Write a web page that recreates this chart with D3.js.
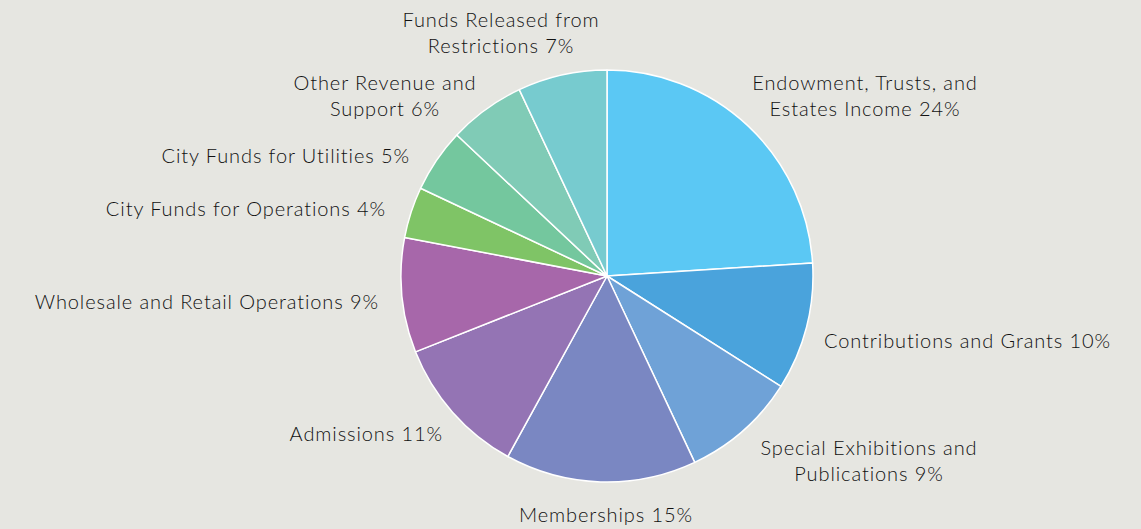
<!DOCTYPE html>
<html>
<head>
<meta charset="utf-8">
<script src="https://cdn.jsdelivr.net/npm/d3@7"></script>
<style>
  html, body { margin: 0; padding: 0; background: #e6e6e1; }
  svg { display: block; }
  text { font-family: Lato, "Open Sans", sans-serif; fill: #111; font-weight: 300; }
</style>
</head>
<body>
<svg id="chart" width="1141" height="529"></svg>
<script>
// data
const categories = [
  "Endowment, Trusts, and Estates Income",
  "Contributions and Grants",
  "Special Exhibitions and Publications",
  "Memberships",
  "Admissions",
  "Wholesale and Retail Operations",
  "City Funds for Operations",
  "City Funds for Utilities",
  "Other Revenue and Support",
  "Funds Released from Restrictions"
];
const shares = [24, 10, 9, 15, 11, 9, 4, 5, 6, 7];
// label text, split where the reference wraps it
const labelLines = [
  ["Endowment, Trusts, and", "Estates Income 24%"],
  ["Contributions and Grants 10%"],
  ["Special Exhibitions and", "Publications 9%"],
  ["Memberships 15%"],
  ["Admissions 11%"],
  ["Wholesale and Retail Operations 9%"],
  ["City Funds for Operations 4%"],
  ["City Funds for Utilities 5%"],
  ["Other Revenue and", "Support 6%"],
  ["Funds Released from", "Restrictions 7%"]
];

const colors = ["#5bc8f4", "#4aa3dc", "#6fa2d7", "#7a87c2", "#9474b4",
                "#a767aa", "#7fc466", "#74c79e", "#80cbb6", "#77cbcf"];

// label layout: x, first baseline, anchor
const labelLayout = [
  [865, 90, "middle"],
  [1111, 348, "end"],
  [869, 455, "middle"],
  [606, 522, "middle"],
  [443, 441, "end"],
  [379, 309, "end"],
  [386, 216, "end"],
  [410, 163, "end"],
  [385, 90, "middle"],
  [501, 27, "middle"]
];

const svg = d3.select('#chart');
const cx = 607, cy = 276, radius = 206;
const lineHeight = 26;

let slices = categories.map((c, i) => ({ name: c, val: shares[i], i: i }));

let pie = d3.pie()
    .value(d => d.val)
    .sort(null);
let arc = d3.arc()
    .innerRadius(0)
    .outerRadius(radius);

let g = svg.append('g')
    .attr('transform', `translate(${cx},${cy})`);

g.selectAll('path')
    .data(pie(slices))
    .enter()
    .append('path')
    .attr('d', arc)
    .attr('fill', d => colors[d.data.i])
    .attr('stroke', '#fff')
    .attr('stroke-width', 1.5)
    .attr('stroke-linejoin', 'round');

let labels = svg.selectAll('.label')
    .data(slices)
    .enter()
    .append('text')
    .classed('label', true)
    .attr('text-anchor', d => labelLayout[d.i][2])
    .style('font-size', '20px')
    .style('letter-spacing', '0.9px');

labels.each(function (d) {
    let [x, y] = labelLayout[d.i];
    d3.select(this).selectAll('tspan')
        .data(labelLines[d.i])
        .enter()
        .append('tspan')
        .attr('x', x)
        .attr('y', (t, k) => y + k * lineHeight)
        .text(t => t);
});
</script>
</body>
</html>
